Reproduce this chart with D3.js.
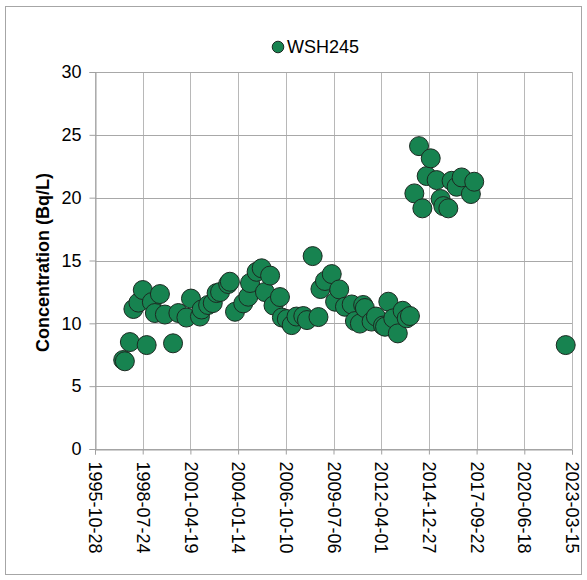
<!DOCTYPE html>
<html>
<head>
<meta charset="utf-8">
<script src="https://cdn.jsdelivr.net/npm/d3@7/dist/d3.min.js"></script>
<style>
  html, body { margin: 0; padding: 0; background: #fff; }
  svg { display: block; font-family: "Liberation Sans", Arial, sans-serif; }
</style>
</head>
<body>
<svg id="chart" width="587" height="580"></svg>
<script>
// Sampling dates and measured concentrations for well WSH245
const sampleDates = [
  "1997-06-10", "1997-07-15", "1997-10-28", "1998-01-10", "1998-04-25",
  "1998-07-26", "1998-10-15", "1999-02-01", "1999-04-05", "1999-07-20",
  "1999-11-01", "2000-04-20", "2000-08-10", "2001-01-25", "2001-05-01",
  "2001-11-05", "2001-12-10", "2002-04-25", "2002-08-01", "2002-10-20",
  "2003-01-01", "2003-06-20", "2003-07-25", "2003-11-10", "2004-05-01",
  "2004-08-15", "2004-09-20", "2005-02-05", "2005-05-22", "2005-07-30",
  "2005-11-15", "2006-01-25", "2006-06-10", "2006-07-20", "2006-11-01",
  "2007-02-10", "2007-05-22", "2007-10-12", "2007-12-28", "2008-04-25",
  "2008-08-25", "2008-10-05", "2009-01-08", "2009-05-30", "2009-08-08",
  "2009-11-03", "2010-03-03", "2010-07-22", "2010-09-28", "2011-01-10",
  "2011-03-20", "2011-04-25", "2011-09-12", "2011-12-12", "2012-05-08",
  "2012-06-20", "2012-08-28", "2012-12-10", "2013-03-15", "2013-06-25",
  "2013-09-18", "2013-11-25", "2014-02-25", "2014-06-03", "2014-08-12",
  "2014-11-10", "2015-02-03", "2015-06-07", "2015-08-30", "2015-10-25",
  "2016-02-07", "2016-04-16", "2016-07-30", "2016-11-12", "2017-05-25",
  "2017-08-03", "2022-11-03"
];
const concentrations = [
  7.08, 6.98, 8.51, 11.14, 11.65,
  12.65, 8.27, 11.69, 10.82, 12.33,
  10.70, 8.41, 10.82, 10.46, 11.97,
  10.54, 11.10, 11.46, 11.61, 12.41,
  12.49, 13.13, 13.31, 10.92, 11.59,
  12.12, 13.21, 14.10, 14.38, 12.49,
  13.80, 11.42, 12.09, 10.46, 10.34,
  9.86, 10.54, 10.58, 10.26, 15.35,
  10.50, 12.73, 13.37, 13.92, 11.72,
  12.70, 11.32, 11.50, 10.18, 9.98,
  11.46, 11.22, 10.14, 10.54, 9.82,
  9.73, 11.72, 10.40, 9.20, 11.00,
  10.40, 10.58, 20.34, 24.10, 19.15,
  21.72, 23.13, 21.40, 19.89, 19.33,
  19.15, 21.34, 20.87, 21.61, 20.29,
  21.27, 8.27
];
const seriesName = "WSH245";
const yTicks = [0, 5, 10, 15, 20, 25, 30];
const xTickLabels = [
  "1995-10-28", "1998-07-24", "2001-04-19", "2004-01-14", "2006-10-10",
  "2009-07-06", "2012-04-01", "2014-12-27", "2017-09-22", "2020-06-18",
  "2023-03-15"
];

const parse = d3.utcParse("%Y-%m-%d");
const fmt = d3.utcFormat("%Y-%m-%d");
const points = sampleDates.map((d, i) => ({ date: parse(d), value: concentrations[i] }));
const tickDates = xTickLabels.map(parse);

const svg = d3.select("#chart");
const W = 587, H = 580;
const plot = { left: 95, right: 572, top: 72, bottom: 449 };

// outer frame
svg.append("rect")
  .attr("x", 5.5).attr("y", 6.5)
  .attr("width", 576).attr("height", 568)
  .attr("fill", "#fff").attr("stroke", "#a6a6a6").attr("stroke-width", 1);

const x = d3.scaleUtc()
  .domain([tickDates[0], tickDates[tickDates.length - 1]])
  .range([plot.left, plot.right]);
const y = d3.scaleLinear()
  .domain([0, 30])
  .range([plot.bottom, plot.top]);

// gridlines
const grid = svg.append("g");
grid.selectAll("line.v").data(tickDates).join("line")
  .attr("class", "v")
  .attr("x1", d => Math.round(x(d)) + 0.5).attr("x2", d => Math.round(x(d)) + 0.5)
  .attr("y1", plot.top).attr("y2", plot.bottom)
  .attr("stroke", "#b8b8b8").attr("stroke-width", 1);
grid.selectAll("line.h").data(yTicks).join("line")
  .attr("class", "h")
  .attr("x1", plot.left).attr("x2", plot.right)
  .attr("y1", d => Math.round(y(d)) + 0.5).attr("y2", d => Math.round(y(d)) + 0.5)
  .attr("stroke", "#a8a8a8").attr("stroke-width", 1);

// y axis
const yAxis = svg.append("g")
  .attr("transform", `translate(${plot.left + 0.5},0)`)
  .call(d3.axisLeft(y).tickValues(yTicks).tickSize(6).tickPadding(8).tickFormat(d3.format("d")));
yAxis.select(".domain").attr("stroke", "#a0a0a0");
yAxis.selectAll(".tick line").attr("stroke", "#a0a0a0");
yAxis.selectAll(".tick text")
  .attr("font-size", 18).attr("fill", "#000")
  .attr("font-family", "Liberation Sans, Arial, sans-serif");

// x axis
const xAxis = svg.append("g")
  .attr("transform", `translate(0,${plot.bottom + 0.5})`)
  .call(d3.axisBottom(x).tickValues(tickDates).tickSize(5).tickFormat(fmt));
xAxis.select(".domain").attr("stroke", "#a0a0a0");
xAxis.selectAll(".tick line").attr("stroke", "#a0a0a0");
xAxis.selectAll(".tick text")
  .attr("font-size", 18).attr("fill", "#000")
  .attr("font-family", "Liberation Sans, Arial, sans-serif")
  .attr("transform", "rotate(90)")
  .attr("x", 12).attr("y", 0).attr("dy", "0.35em")
  .attr("text-anchor", "start");

// y axis title
svg.append("text")
  .attr("transform", `translate(49,${(plot.top + plot.bottom) / 2 + 2}) rotate(-90)`)
  .attr("text-anchor", "middle")
  .attr("font-size", 18).attr("font-weight", "bold").attr("fill", "#000")
  .text("Concentration (Bq/L)");

// data points
svg.append("g").selectAll("circle").data(points).join("circle")
  .attr("cx", d => x(d.date))
  .attr("cy", d => y(d.value))
  .attr("r", 9.5)
  .attr("fill", "#178350")
  .attr("stroke", "#1c2a22")
  .attr("stroke-width", 1);

// legend
const legend = svg.append("g").attr("transform", "translate(278,47)");
legend.append("circle").attr("cx", 0).attr("cy", 0).attr("r", 5.8)
  .attr("fill", "#178350").attr("stroke", "#1c2a22").attr("stroke-width", 1);
legend.append("text").attr("x", 9).attr("y", 0).attr("dy", "0.35em")
  .attr("font-size", 18).attr("fill", "#000").text(seriesName);
</script>
</body>
</html>
